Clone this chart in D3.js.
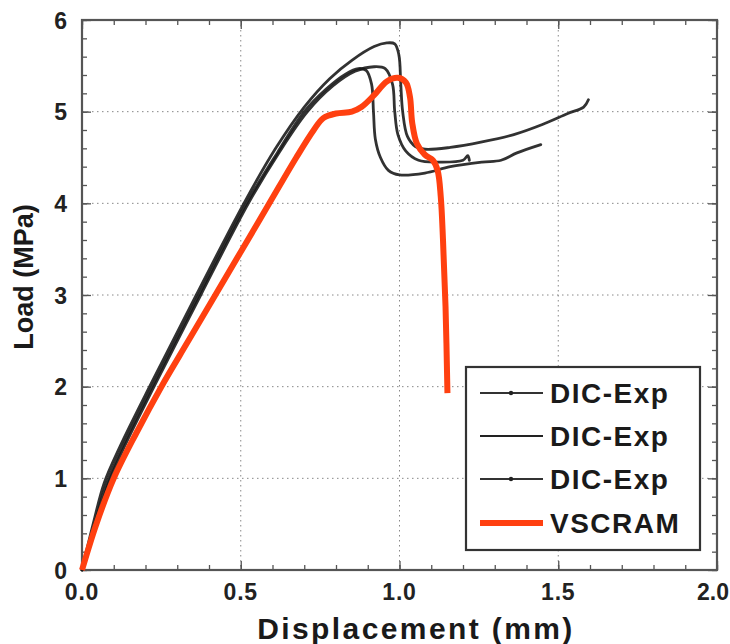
<!DOCTYPE html>
<html><head><meta charset="utf-8">
<script src="https://cdn.jsdelivr.net/npm/d3@7"></script>
<style>html,body{margin:0;padding:0;background:#fff;}svg{display:block;}</style>
</head><body><div id="chart"></div>
<script>
// ---- data ----
const xTicks = [0.0, 0.5, 1.0, 1.5, 2.0];
const yTicks = [0, 1, 2, 3, 4, 5, 6];
const seriesNames = ["DIC-Exp", "DIC-Exp", "DIC-Exp", "VSCRAM"];
const dicA = [[0,0],[0.035,0.5],[0.07,0.95],[0.12,1.35],[0.22,2.05],[0.36,3.0],[0.51,4.0],[0.61,4.6],[0.7,5.05],[0.78,5.36],[0.85,5.56],[0.92,5.71],[0.96,5.75],[0.985,5.74],[0.998,5.62],[1.004,5.3],[1.01,5.0],[1.025,4.73],[1.05,4.62],[1.08,4.59],[1.16,4.61],[1.26,4.67],[1.36,4.75],[1.45,4.86],[1.53,4.98],[1.58,5.05],[1.595,5.13]];
const dicB = [[0,0],[0.04,0.5],[0.078,0.95],[0.128,1.35],[0.228,2.05],[0.368,3.0],[0.518,4.0],[0.615,4.55],[0.7,5.0],[0.77,5.25],[0.83,5.41],[0.87,5.47],[0.895,5.45],[0.912,5.3],[0.918,5.0],[0.924,4.7],[0.94,4.5],[0.965,4.36],[1.0,4.31],[1.08,4.33],[1.16,4.4],[1.26,4.45],[1.32,4.47],[1.37,4.55],[1.445,4.64]];
const dicC = [[0,0],[0.045,0.5],[0.084,0.95],[0.134,1.35],[0.234,2.05],[0.374,3.0],[0.524,4.0],[0.62,4.55],[0.71,5.0],[0.79,5.28],[0.86,5.44],[0.92,5.49],[0.955,5.47],[0.978,5.3],[0.985,5.0],[0.995,4.75],[1.02,4.57],[1.06,4.47],[1.12,4.45],[1.2,4.47],[1.215,4.52],[1.22,4.47]];
const vscram = [[0,0],[0.045,0.5],[0.1,1.0],[0.172,1.5],[0.25,2.0],[0.335,2.5],[0.42,3.0],[0.505,3.5],[0.59,4.0],[0.675,4.5],[0.73,4.8],[0.76,4.93],[0.8,4.98],[0.85,5.0],[0.88,5.05],[0.92,5.18],[0.96,5.33],[0.995,5.37],[1.02,5.32],[1.033,5.16],[1.04,4.88],[1.055,4.65],[1.08,4.53],[1.105,4.47],[1.12,4.36],[1.13,4.07],[1.137,3.6],[1.145,2.87],[1.151,1.93]];

// ---- layout ----
const W = 730, H = 644;
const L = 82, R = 717, T = 20, B = 570;
const svg = d3.select("#chart").append("svg").attr("width", W).attr("height", H);
const x = d3.scaleLinear().domain([0, 2]).range([L, R]);
const y = d3.scaleLinear().domain([0, 6]).range([B, T]);
const font = "Arial, 'Liberation Sans', Helvetica, sans-serif";

// grid
const g = svg.append("g");
g.selectAll(".gx").data(xTicks.slice(1, -1)).join("line")
  .attr("x1", d => x(d)).attr("x2", d => x(d)).attr("y1", T).attr("y2", B)
  .attr("stroke", "#888").attr("stroke-width", 1).attr("stroke-dasharray", "1.5,3.5");
g.selectAll(".gy").data(yTicks.slice(1, -1)).join("line")
  .attr("y1", d => y(d)).attr("y2", d => y(d)).attr("x1", L).attr("x2", R)
  .attr("stroke", "#888").attr("stroke-width", 1).attr("stroke-dasharray", "1.5,3.5");

// axes with inward ticks on all sides
const minorX = d3.range(0, 2.0001, 0.1);
const minorY = d3.range(0, 6.0001, 0.2);
function axisG(axis, tr) {
  const a = svg.append("g").attr("transform", tr).call(axis);
  a.select(".domain").remove();
  a.selectAll("line").attr("stroke", "#555").attr("stroke-width", 1.3);
  a.selectAll("text").remove();
  return a;
}
axisG(d3.axisBottom(x).tickValues(minorX).tickSize(-5), `translate(0,${B})`);
axisG(d3.axisTop(x).tickValues(minorX).tickSize(-5), `translate(0,${T})`);
axisG(d3.axisLeft(y).tickValues(minorY).tickSize(-5), `translate(${L},0)`);
axisG(d3.axisRight(y).tickValues(minorY).tickSize(-5), `translate(${R},0)`);
axisG(d3.axisBottom(x).tickValues(xTicks).tickSize(-9), `translate(0,${B})`);
axisG(d3.axisTop(x).tickValues(xTicks).tickSize(-9), `translate(0,${T})`);
axisG(d3.axisLeft(y).tickValues(yTicks).tickSize(-9), `translate(${L},0)`);
axisG(d3.axisRight(y).tickValues(yTicks).tickSize(-9), `translate(${R},0)`);

// frame
svg.append("rect").attr("x", L).attr("y", T).attr("width", R - L).attr("height", B - T)
  .attr("fill", "none").attr("stroke", "#555").attr("stroke-width", 2.2);

// tick labels
svg.append("g").selectAll("text").data(xTicks).join("text")
  .attr("x", (d, i) => i === xTicks.length - 1 ? 729 : x(d)).attr("y", 600)
  .attr("text-anchor", (d, i) => i === xTicks.length - 1 ? "end" : "middle")
  .attr("font-family", font).attr("font-weight", "bold").attr("font-size", 23)
  .attr("letter-spacing", (d, i) => i === xTicks.length - 1 ? 0 : 0.8)
  .attr("fill", "#222").text(d => d3.format(".1f")(d));
svg.append("g").selectAll("text").data(yTicks).join("text")
  .attr("x", 67).attr("y", d => y(d) + 8.5).attr("text-anchor", "end")
  .attr("font-family", font).attr("font-weight", "bold").attr("font-size", 23)
  .attr("fill", "#222").text(d => d);

// axis titles
svg.append("text").attr("x", 416).attr("y", 639).attr("text-anchor", "middle")
  .attr("font-family", font).attr("font-weight", "bold").attr("font-size", 30)
  .attr("letter-spacing", 2.4).attr("fill", "#1a1a1a").text("Displacement (mm)");
svg.append("text").attr("transform", "translate(33,277) rotate(-90)").attr("text-anchor", "middle")
  .attr("font-family", font).attr("font-weight", "bold").attr("font-size", 27)
  .attr("fill", "#1a1a1a").text("Load (MPa)");

// curves
const line = d3.line().x(d => x(d[0])).y(d => y(d[1])).curve(d3.curveCatmullRom.alpha(0.5));
const dicSeries = [dicA, dicB, dicC];
svg.append("g").selectAll("path").data(dicSeries).join("path")
  .attr("d", line).attr("fill", "none").attr("stroke", "#161616")
  .attr("stroke-width", 2.8).attr("stroke-linejoin", "round").attr("stroke-linecap", "round").attr("opacity", 0.88);
svg.append("path").datum(vscram).attr("d", line).attr("fill", "none")
  .attr("stroke", "#ff4010").attr("stroke-width", 6).attr("stroke-linejoin", "round");

// legend
const lg = svg.append("g");
lg.append("rect").attr("x", 466).attr("y", 367).attr("width", 234).attr("height", 183)
  .attr("fill", "#fff").attr("stroke", "#333").attr("stroke-width", 2.2);
const ly = [393, 436, 479, 523];
const lcol = ["#333", "#222", "#333", "#ff4010"];
const lw = [2.2, 2.2, 2.2, 6];
const hasDot = [true, false, true, false];
seriesNames.forEach((n, i) => {
  lg.append("line").attr("x1", 480).attr("x2", 543).attr("y1", ly[i]).attr("y2", ly[i])
    .attr("stroke", lcol[i]).attr("stroke-width", lw[i]);
  if (hasDot[i]) lg.append("circle").attr("cx", 511).attr("cy", ly[i]).attr("r", 2.2).attr("fill", "#222");
  lg.append("text").attr("x", 550).attr("y", ly[i] + 10).attr("font-family", font)
    .attr("font-weight", "bold").attr("font-size", 28).attr("letter-spacing", 1.5)
    .attr("fill", "#1a1a1a").text(n);
});
</script></body></html>
